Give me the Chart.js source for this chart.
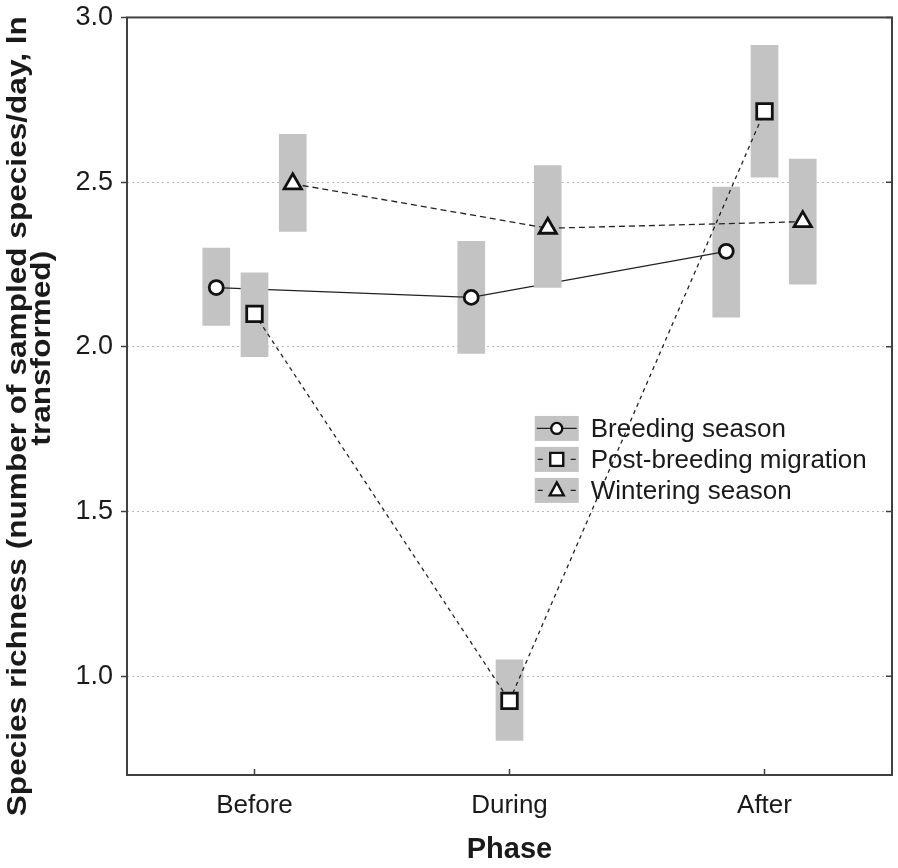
<!DOCTYPE html>
<html>
<head>
<meta charset="utf-8">
<script src="https://cdn.jsdelivr.net/npm/chart.js@4/dist/chart.umd.min.js"></script>
<style>
  body { margin: 0; background: #fff; }
  #wrap { width: 898px; height: 868px; }
</style>
</head>
<body>
<div id="wrap"><canvas id="richness"></canvas></div>
<script>
const phases = ['Before', 'During', 'After']
const seasons = ['Breeding season', 'Post-breeding migration', 'Wintering season']

// means and interval ends, ln transformed
const breedingMean = [2.18, 2.15, 2.29]
const breedingLow = [2.065, 1.98, 2.09]
const breedingHigh = [2.30, 2.32, 2.485]

const postMean = [2.10, 0.925, 2.715]
const postLow = [1.97, 0.805, 2.515]
const postHigh = [2.225, 1.05, 2.915]

const winterMean = [2.495, 2.36, 2.38]
const winterLow = [2.35, 2.18, 2.19]
const winterHigh = [2.645, 2.55, 2.57]

const yTicks = [1.0, 1.5, 2.0, 2.5, 3.0]
const yTitle = ['Species richness (number of sampled species/day, ln', 'transformed)']
const xTitle = 'Phase'

const ink = '#1a1a1a'
const boxGray = '#c3c3c3'
const sans = '"Liberation Sans", Arial, sans-serif'

const series = [
  { label: seasons[0], mean: breedingMean, low: breedingLow, high: breedingHigh,
    shift: -0.15, style: 'circle', radius: 7, dash: [] },
  { label: seasons[1], mean: postMean, low: postLow, high: postHigh,
    shift: 0, style: 'rect', radius: 11, dash: [4, 4] },
  { label: seasons[2], mean: winterMean, low: winterLow, high: winterHigh,
    shift: 0.15, style: 'triangle', radius: 10, dash: [6, 4] }
]

// each season: its bars, then its line, so later bars hide earlier lines
const datasets = []
series.forEach((s, k) => {
  datasets.push({
    type: 'bar',
    label: s.label + ' interval',
    data: phases.map((p, i) => ({ x: i + 1 + s.shift, y: [s.low[i], s.high[i]] })),
    backgroundColor: boxGray,
    barThickness: 27,
    grouped: false,
    order: 10 - k * 2
  })
  datasets.push({
    type: 'line',
    label: s.label,
    data: phases.map((p, i) => ({ x: i + 1 + s.shift, y: s.mean[i] })),
    borderColor: '#222',
    borderWidth: 1.3,
    borderDash: s.dash,
    pointStyle: s.style,
    pointRadius: s.radius,
    pointBackgroundColor: '#fff',
    pointBorderColor: '#111',
    pointBorderWidth: 2.8,
    tension: 0,
    order: 9 - k * 2
  })
})

function marker(ctx, style, x, y) {
  ctx.beginPath()
  if (style == 'circle') {
    ctx.arc(x, y, 5.5, 0, Math.PI * 2)
  } else if (style == 'rect') {
    ctx.rect(x - 6.5, y - 6.5, 13, 13)
  } else {
    ctx.moveTo(x, y - 8)
    ctx.lineTo(x + 7, y + 5)
    ctx.lineTo(x - 7, y + 5)
    ctx.closePath()
  }
  ctx.fillStyle = '#fff'
  ctx.fill()
  ctx.lineWidth = 2.4
  ctx.strokeStyle = '#111'
  ctx.stroke()
}

const seasonLegend = {
  id: 'seasonLegend',
  beforeDatasetsDraw(chart) {
    const { ctx, chartArea: a } = chart
    const x0 = a.left + (a.right - a.left) * 0.533
    let y0 = a.top + (a.bottom - a.top) * 0.526
    ctx.save()
    series.forEach(s => {
      const cy = y0 + 12.5
      ctx.fillStyle = boxGray
      ctx.fillRect(x0, y0, 44, 25)
      ctx.strokeStyle = '#222'
      ctx.lineWidth = 1.3
      ctx.beginPath()
      if (s.dash.length == 0) {
        ctx.moveTo(x0 + 2, cy)
        ctx.lineTo(x0 + 42, cy)
      } else {
        ctx.moveTo(x0 + 3, cy)
        ctx.lineTo(x0 + 8, cy)
        ctx.moveTo(x0 + 36, cy)
        ctx.lineTo(x0 + 41, cy)
      }
      ctx.stroke()
      marker(ctx, s.style, x0 + 22, cy)
      ctx.fillStyle = ink
      ctx.font = '26px ' + sans
      ctx.textBaseline = 'middle'
      ctx.textAlign = 'left'
      ctx.fillText(s.label, x0 + 56, cy + 1)
      y0 += 31
    })
    ctx.restore()
  }
}

// two-line rotated axis title, stretched along the text like the original
const yTitlePlugin = {
  id: 'yTitlePlugin',
  afterDraw(chart) {
    const { ctx, chartArea: a } = chart
    const mid = (a.top + a.bottom) / 2
    const spots = [[19, mid + 20], [43, mid - 48]]
    ctx.save()
    ctx.fillStyle = ink
    ctx.font = 'bold 27px ' + sans
    ctx.textAlign = 'center'
    ctx.textBaseline = 'middle'
    yTitle.forEach((line, i) => {
      ctx.save()
      ctx.translate(spots[i][0], spots[i][1])
      ctx.rotate(-Math.PI / 2)
      ctx.scale(1.17, 1)
      ctx.fillText(line, 0, 0)
      ctx.restore()
    })
    ctx.restore()
  }
}

const frame = {
  id: 'frame',
  afterDraw(chart) {
    const { ctx, chartArea: a, scales } = chart
    ctx.save()
    ctx.strokeStyle = '#404040'
    ctx.lineWidth = 1.5
    ctx.beginPath()
    scales.x.ticks.forEach(t => {
      const px = scales.x.getPixelForValue(t.value)
      ctx.moveTo(px, a.bottom)
      ctx.lineTo(px, a.bottom - 6)
    })
    scales.y.ticks.forEach(t => {
      const py = scales.y.getPixelForValue(t.value)
      ctx.moveTo(a.right, py)
      ctx.lineTo(a.right - 6, py)
    })
    ctx.stroke()
    ctx.lineWidth = 2
    ctx.strokeRect(a.left, a.top, a.right - a.left, a.bottom - a.top)
    ctx.restore()
  }
}

new Chart(document.getElementById('richness'), {
  type: 'line',
  data: { datasets },
  plugins: [seasonLegend, frame, yTitlePlugin],
  options: {
    responsive: true,
    maintainAspectRatio: false,
    animation: false,
    events: [],
    layout: { autoPadding: false, padding: { top: 16, right: 6, left: 0, bottom: 0 } },
    plugins: {
      legend: { display: false },
      tooltip: { enabled: false }
    },
    scales: {
      x: {
        type: 'linear',
        min: 0.5,
        max: 3.5,
        offset: false,
        afterBuildTicks: scale => {
          scale.ticks = phases.map((p, i) => ({ value: i + 1 }))
        },
        afterFit: scale => { scale.height = 93 },
        grid: { display: false },
        border: { display: false },
        ticks: {
          color: ink,
          padding: 7,
          font: { family: sans, size: 26 },
          callback: (v, i) => phases[i]
        },
        title: {
          display: true,
          text: xTitle,
          color: ink,
          padding: { top: 0, bottom: 1 },
          font: { family: sans, size: 29, weight: 'bold' }
        }
      },
      y: {
        min: 0.7,
        max: 3.0,
        afterBuildTicks: scale => {
          scale.ticks = yTicks.map(v => ({ value: v }))
        },
        afterFit: scale => { scale.width = 127 },
        grid: {
          color: c => (c.tick && c.tick.value == 3) ? 'rgba(0,0,0,0)' : '#b8b8b8',
          lineWidth: 1,
          drawTicks: true,
          tickLength: 6,
          tickColor: '#404040',
          tickWidth: 1.5
        },
        border: { display: false, dash: [2, 3] },
        ticks: {
          color: ink,
          padding: 8,
          font: { family: sans, size: 27, lineHeight: 0.7 },
          callback: v => v.toFixed(1)
        },
        title: { display: false }
      }
    }
  }
})
</script>
</body>
</html>
